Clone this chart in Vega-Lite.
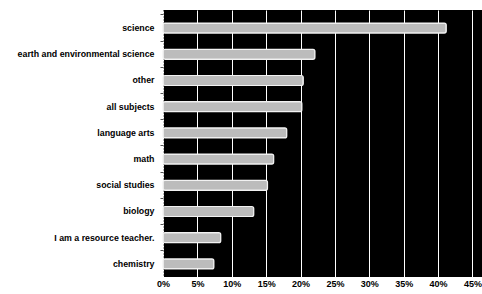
{
  "$schema": "https://vega.github.io/schema/vega-lite/v6.json",
  "autosize": {"type": "none"},
  "width": 319,
  "height": 267,
  "padding": {"left": 163, "top": 10, "right": 0, "bottom": 17},
  "background": "white",
  "view": {"fill": "black", "stroke": null},
  "data": {
    "values": [
      {"subject": "science", "pct": 41.2},
      {"subject": "earth and environmental science", "pct": 22.1},
      {"subject": "other", "pct": 20.4},
      {"subject": "all subjects", "pct": 20.2},
      {"subject": "language arts", "pct": 18.0},
      {"subject": "math", "pct": 16.1},
      {"subject": "social studies", "pct": 15.2},
      {"subject": "biology", "pct": 13.2},
      {"subject": "I am a resource teacher.", "pct": 8.4},
      {"subject": "chemistry", "pct": 7.4}
    ]
  },
  "mark": {"type": "bar", "height": 10, "fill": "#bcbcbc", "stroke": "#f2f2f2", "strokeWidth": 1.2, "cornerRadius": 2},
  "encoding": {
    "y": {
      "field": "subject",
      "type": "nominal",
      "sort": null,
      "scale": {"paddingInner": 0, "paddingOuter": 0.095, "align": 1},
      "axis": {
        "title": null,
        "labelFont": "Liberation Sans",
        "labelFontWeight": "bold",
        "labelFontSize": 8.8,
        "labelColor": "black",
        "labelPadding": 6,
        "bandPosition": 0,
        "tickSize": 3,
        "tickColor": "#555",
        "domainColor": "#777",
        "domainDash": [1, 2],
        "grid": false
      }
    },
    "x": {
      "field": "pct",
      "type": "quantitative",
      "scale": {"domain": [0, 46.4]},
      "axis": {
        "title": null,
        "values": [0, 5, 10, 15, 20, 25, 30, 35, 40, 45],
        "labelExpr": "datum.value + '%'",
        "labelFont": "Liberation Sans",
        "labelFontWeight": "bold",
        "labelFontSize": 9,
        "labelColor": "black",
        "labelPadding": 2,
        "labelFlush": false,
        "domain": false,
        "ticks": false,
        "grid": true,
        "gridColor": "white",
        "gridWidth": 1,
        "gridOpacity": 1
      }
    }
  }
}
